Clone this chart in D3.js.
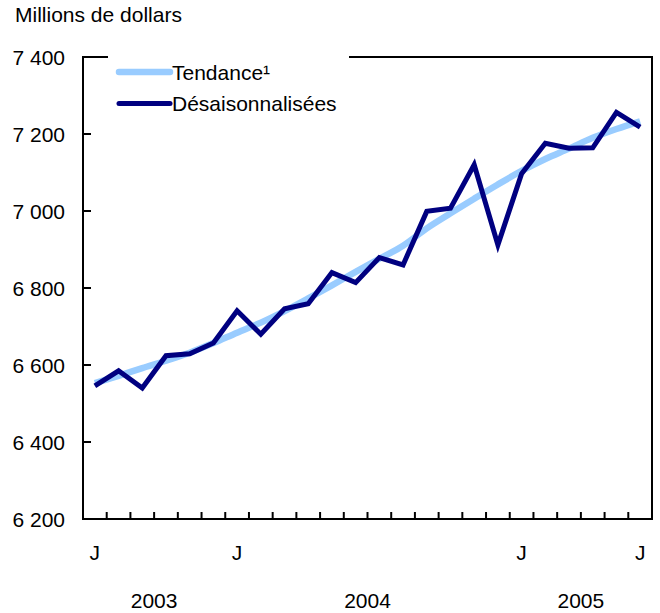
<!DOCTYPE html>
<html>
<head>
<meta charset="utf-8">
<script src="https://cdn.jsdelivr.net/npm/d3@7"></script>
<style>
  body { margin: 0; background: #fff; }
  text { font-family: "Liberation Sans", Arial, sans-serif; fill: #000; }
</style>
</head>
<body>
<div id="graph"></div>
<script>
// juillet 2003 a juin 2005
const months = ["2003-07","2003-08","2003-09","2003-10","2003-11","2003-12",
  "2004-01","2004-02","2004-03","2004-04","2004-05","2004-06",
  "2004-07","2004-08","2004-09","2004-10","2004-11","2004-12",
  "2005-01","2005-02","2005-03","2005-04","2005-05","2005-06"];
const tendance = [6553, 6572, 6592, 6611, 6632, 6657, 6684, 6710, 6740, 6773, 6807, 6842,
  6876, 6910, 6955, 6994, 7032, 7069, 7104, 7135, 7162, 7190, 7213, 7233];
const desaison = [6546, 6585, 6540, 6624, 6629, 6657, 6741, 6680, 6746, 6759, 6840, 6814,
  6879, 6860, 6999, 7007, 7120, 6912, 7097, 7176, 7163, 7164, 7256, 7218];
const monthLabels = {"2003-07": "J", "2004-01": "J", "2005-01": "J", "2005-06": "J"};
const years = [
  {label: "2003", from: "2003-07", to: "2003-12"},
  {label: "2004", from: "2004-01", to: "2004-12"},
  {label: "2005", from: "2005-01", to: "2005-06"}
];
const yTicks = [6200, 6400, 6600, 6800, 7000, 7200, 7400];

function render(){
  const width = 660, height = 613;
  const left = 83, right = 652, top = 57, bottom = 519;
  const fs = 21;

  const svg = d3.select('#graph')
    .append('svg')
    .attr('width', width)
    .attr('height', height);

  const x = d3.scaleBand()
    .domain(months)
    .range([left, right])
    .padding(0);
  const y = d3.scaleLinear()
    .domain([6200, 7400])
    .range([bottom, top]);
  const cx = m => x(m) + x.bandwidth() / 2;

  const fmt = v => d3.format(",")(v).replace(",", "\u00a0");

  // titre de l'axe
  svg.append('text')
    .attr('x', 15).attr('y', 22)
    .attr('font-size', fs)
    .text('Millions de dollars');

  // lignes
  const line = d3.line()
    .x((d, i) => cx(months[i]))
    .y(d => y(d));

  svg.append('path')
    .datum(tendance)
    .attr('fill', 'none')
    .attr('stroke', '#99ccff')
    .attr('stroke-width', 6.5)
    .attr('d', line.curve(d3.curveMonotoneX));

  svg.append('path')
    .datum(desaison)
    .attr('fill', 'none')
    .attr('stroke', '#000080')
    .attr('stroke-width', 5)
    .attr('stroke-linejoin', 'miter')
    .attr('d', line.curve(d3.curveLinear));

  // cadre
  svg.append('rect')
    .attr('x', left).attr('y', top)
    .attr('width', right - left).attr('height', bottom - top)
    .attr('fill', 'none')
    .attr('stroke', '#000')
    .attr('stroke-width', 2);

  // graduations y
  svg.append('g')
    .selectAll('line')
    .data(yTicks.slice(1, -1))
    .join('line')
    .attr('x1', left).attr('x2', left + 8)
    .attr('y1', d => y(d)).attr('y2', d => y(d))
    .attr('stroke', '#000').attr('stroke-width', 2);

  svg.append('g')
    .selectAll('text')
    .data(yTicks)
    .join('text')
    .attr('x', 65)
    .attr('y', d => y(d) + 7.5)
    .attr('text-anchor', 'end')
    .attr('font-size', fs)
    .text(fmt);

  // graduations x
  svg.append('g')
    .selectAll('line')
    .data(months.slice(1))
    .join('line')
    .attr('x1', d => x(d)).attr('x2', d => x(d))
    .attr('y1', bottom).attr('y2', bottom - 7)
    .attr('stroke', '#000').attr('stroke-width', 2);

  svg.append('g')
    .selectAll('text')
    .data(Object.keys(monthLabels))
    .join('text')
    .attr('x', d => cx(d))
    .attr('y', 560)
    .attr('text-anchor', 'middle')
    .attr('font-size', fs)
    .text(d => monthLabels[d]);

  svg.append('g')
    .selectAll('text')
    .data(years)
    .join('text')
    .attr('x', d => (x(d.from) + x(d.to) + x.bandwidth()) / 2)
    .attr('y', 608)
    .attr('text-anchor', 'middle')
    .attr('font-size', fs)
    .text(d => d.label);

  // légende
  const legend = svg.append('g');
  legend.append('rect')
    .attr('x', 108).attr('y', 50)
    .attr('width', 241).attr('height', 64)
    .attr('fill', '#fff');

  const items = [
    {label: 'Tendance¹', color: '#99ccff', w: 6.5},
    {label: 'Désaisonnalisées', color: '#000080', w: 5}
  ];
  const li = legend.selectAll('g.item')
    .data(items)
    .join('g')
    .attr('class', 'item')
    .attr('transform', (d, i) => `translate(0,${72 + i * 31.5})`);
  li.append('line')
    .attr('x1', 119).attr('x2', 170)
    .attr('stroke', d => d.color)
    .attr('stroke-width', d => d.w)
    .attr('stroke-linecap', 'round');
  li.append('text')
    .attr('x', 172).attr('y', 7.5)
    .attr('font-size', fs)
    .text(d => d.label);
}

render();
</script>
</body>
</html>
